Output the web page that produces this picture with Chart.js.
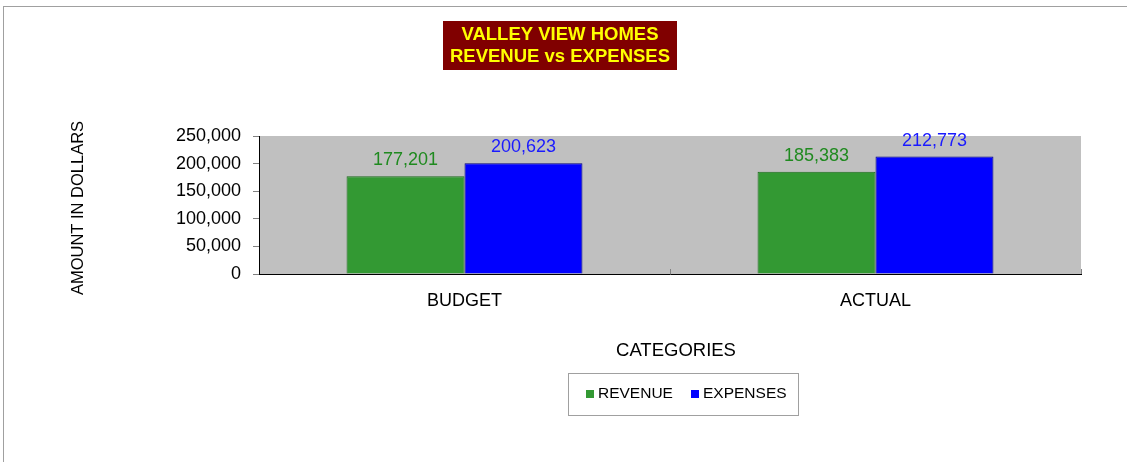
<!DOCTYPE html>
<html>
<head>
<meta charset="utf-8">
<script src="https://cdn.jsdelivr.net/npm/chart.js@4"></script>
<style>
  html, body { margin: 0; padding: 0; background: #fff; overflow: hidden; }
  canvas { display: block; }
</style>
</head>
<body>
<canvas id="chartRevExp" width="1127" height="462"></canvas>
<script>
// data
const categories = ["BUDGET", "ACTUAL"];
const revenue = [177201, 185383];
const expenses = [200623, 212773];
const titleLines = ["VALLEY VIEW HOMES", "REVENUE vs EXPENSES"];
const yTitle = "AMOUNT IN DOLLARS";
const xTitle = "CATEGORIES";

const FONT = "Arial, 'Liberation Sans', sans-serif";
const fmt = v => v.toLocaleString("en-US");

// frame, grey plot area, title box, axis titles, legend, value labels
const decor = {
    id: "decor",
    beforeDraw(chart) {
        const ctx = chart.ctx;
        const a = chart.chartArea;
        ctx.save();
        ctx.strokeStyle = "#a0a0a0";
        ctx.lineWidth = 1;
        ctx.strokeRect(3.5, 6.5, 1140, 470);
        ctx.fillStyle = "#c0c0c0";
        ctx.fillRect(a.left, a.top, a.right - a.left, a.bottom - a.top);
        ctx.restore();
    },
    afterDraw(chart) {
        const ctx = chart.ctx;
        const a = chart.chartArea;
        ctx.save();

        // small category ticks pointing up into the plot
        ctx.strokeStyle = "#808080";
        ctx.lineWidth = 1;
        const n = categories.length;
        for (let i = 1; i <= n; i++) {
            const x = Math.round(a.left + (a.right - a.left) * i / n) + 0.5;
            ctx.beginPath();
            ctx.moveTo(x, a.bottom - 5);
            ctx.lineTo(x, a.bottom);
            ctx.stroke();
        }

        // title box
        ctx.fillStyle = "#800000";
        ctx.fillRect(443, 21, 234, 49);
        ctx.fillStyle = "#ffff00";
        ctx.font = "bold 18.5px " + FONT;
        ctx.textAlign = "center";
        ctx.textBaseline = "middle";
        ctx.fillText(titleLines[0], 560, 35);
        ctx.fillText(titleLines[1], 560, 57);

        // axis titles
        ctx.fillStyle = "#000";
        ctx.font = "18.5px " + FONT;
        ctx.fillText(xTitle, 676, 351);
        ctx.save();
        ctx.translate(78, 208);
        ctx.rotate(-Math.PI / 2);
        ctx.font = "16.5px " + FONT;
        ctx.fillText(yTitle, 0, 0);
        ctx.restore();

        // value labels above the bars
        ctx.font = "18px " + FONT;
        ctx.textBaseline = "alphabetic";
        const labelColors = ["#1f8a1f", "#1a1aff"];
        chart.data.datasets.forEach((ds, di) => {
            chart.getDatasetMeta(di).data.forEach((bar, i) => {
                ctx.fillStyle = labelColors[di];
                ctx.fillText(fmt(ds.data[i]), bar.x, bar.y - 11);
            });
        });

        // legend
        ctx.strokeStyle = "#a0a0a0";
        ctx.strokeRect(568.5, 373.5, 230, 42);
        ctx.font = "15.5px " + FONT;
        ctx.textAlign = "left";
        ctx.textBaseline = "middle";
        const legendX = [586, 691];
        chart.data.datasets.forEach((ds, di) => {
            ctx.fillStyle = ds.backgroundColor;
            ctx.fillRect(legendX[di], 390, 8, 8);
            ctx.fillStyle = "#000";
            ctx.fillText(ds.label, legendX[di] + 12, 394);
        });
        ctx.restore();
    }
};

new Chart(document.getElementById("chartRevExp"), {
    type: "bar",
    data: {
        labels: categories,
        datasets: [
            {
                label: "REVENUE",
                data: revenue,
                backgroundColor: "#339933",
                borderColor: "#1e6b1e",
                borderWidth: 1,
                categoryPercentage: 0.574,
                barPercentage: 1
            },
            {
                label: "EXPENSES",
                data: expenses,
                backgroundColor: "#0000ff",
                borderColor: "#000080",
                borderWidth: 1,
                categoryPercentage: 0.574,
                barPercentage: 1
            }
        ]
    },
    options: {
        responsive: false,
        animation: false,
        devicePixelRatio: 1,
        layout: { padding: { top: 136, left: 0, right: 46, bottom: 0 } },
        plugins: {
            legend: { display: false },
            title: { display: false },
            tooltip: { enabled: false }
        },
        scales: {
            x: {
                grid: { display: false },
                border: { color: "#000", width: 1 },
                ticks: { color: "#000", font: { family: FONT, size: 18 }, padding: 8 },
                afterFit: s => { s.height = 188; }
            },
            y: {
                min: 0,
                max: 250000,
                ticks: {
                    stepSize: 50000,
                    color: "#000",
                    padding: 12,
                    font: { family: FONT, size: 18 },
                    callback: v => fmt(v)
                },
                grid: { drawOnChartArea: false, tickLength: 6, color: "#808080" },
                border: { color: "#000", width: 1 },
                afterFit: s => { s.width = 259; }
            }
        }
    },
    plugins: [decor]
});
</script>
</body>
</html>
